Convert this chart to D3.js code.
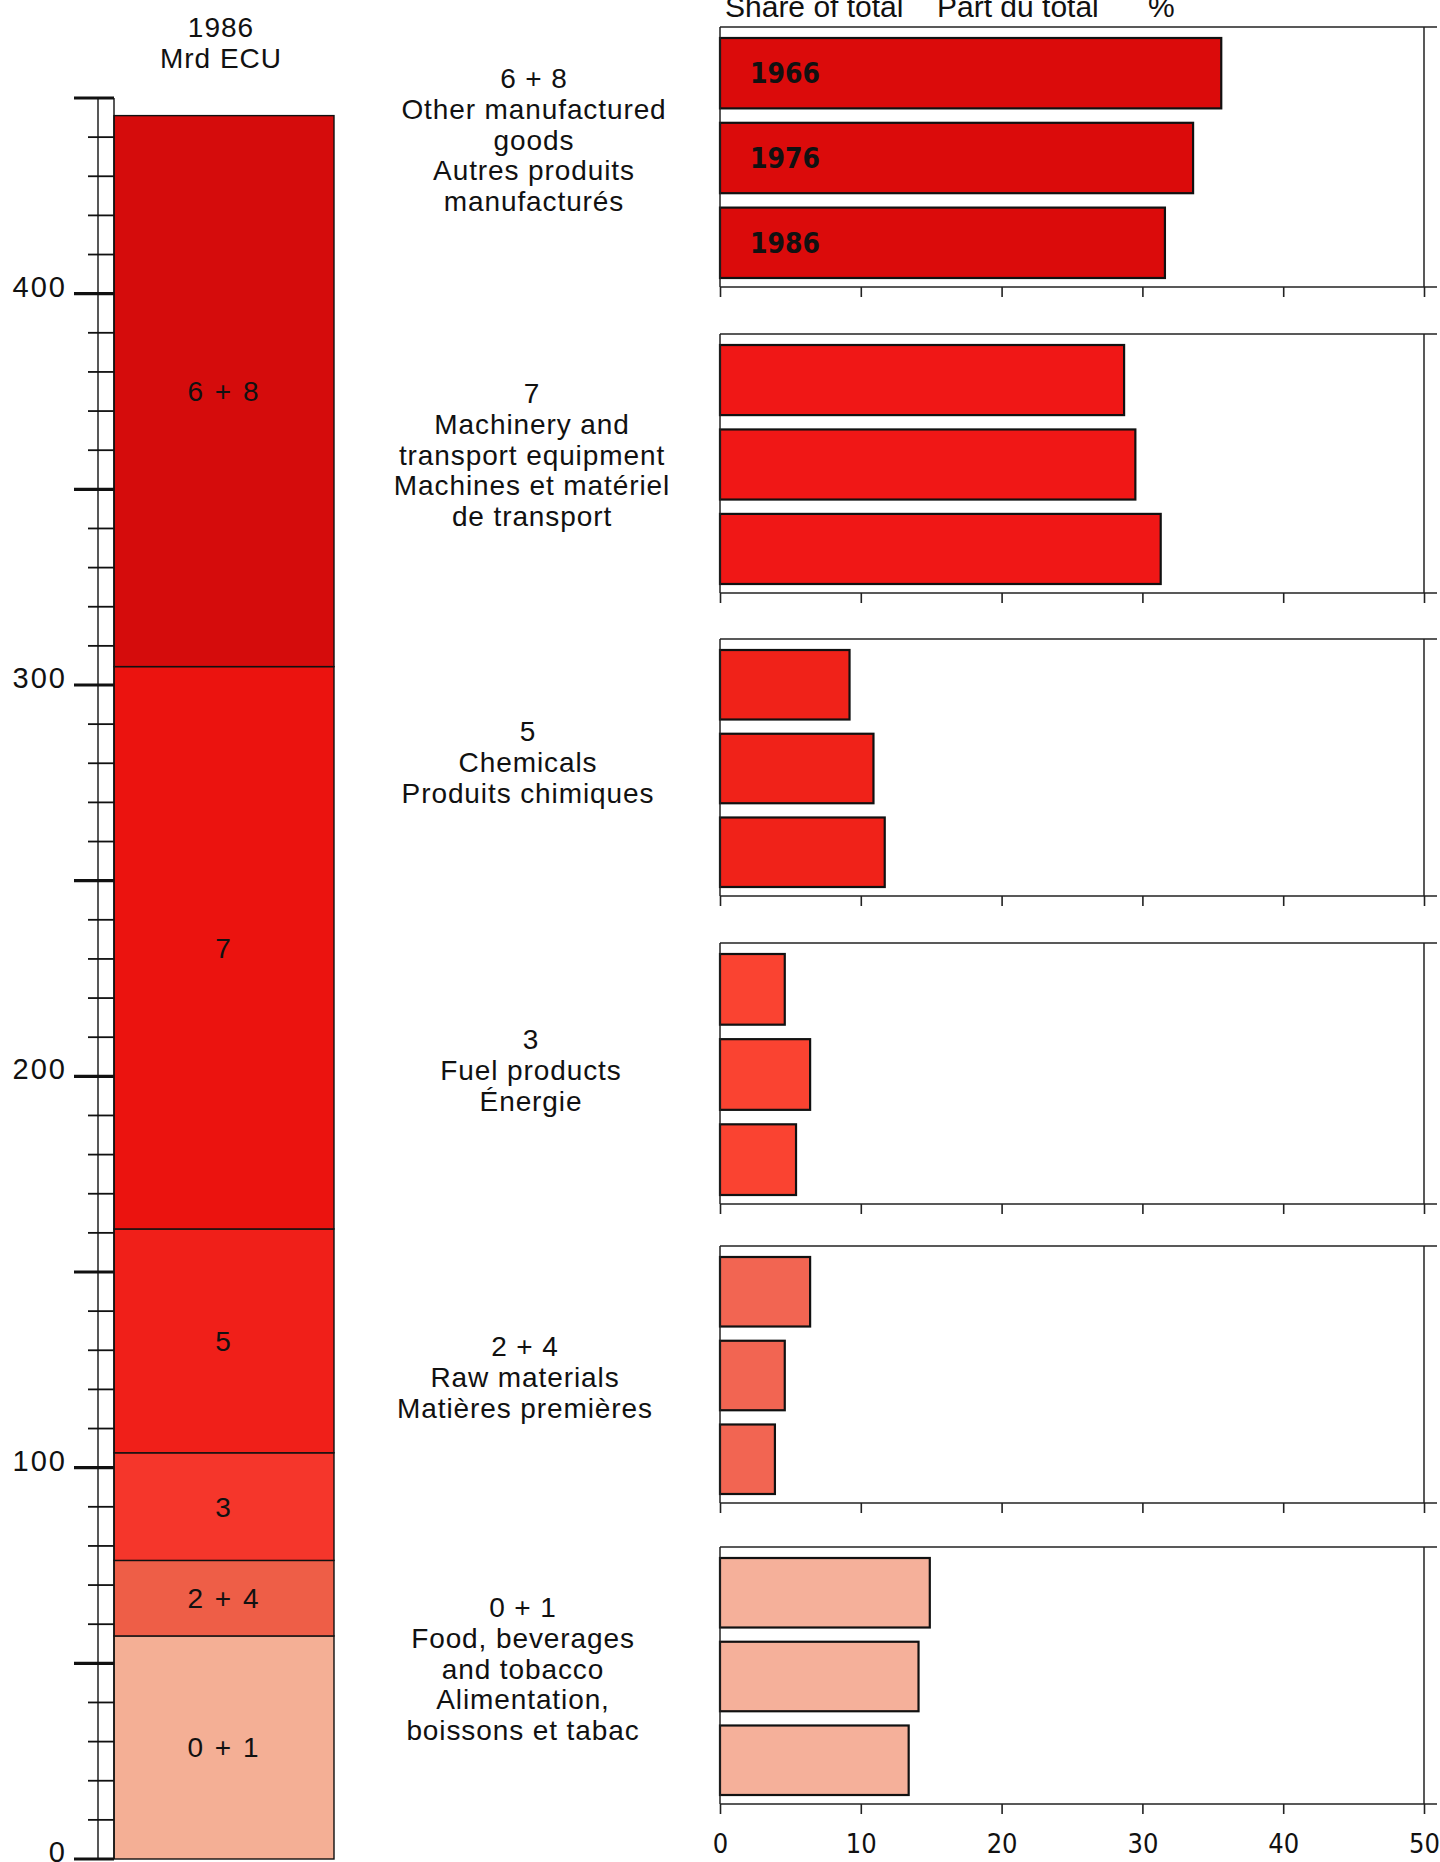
<!DOCTYPE html>
<html>
<head>
<meta charset="utf-8">
<script src="https://cdn.jsdelivr.net/npm/d3@7"></script>
<style>
  html, body { margin: 0; padding: 0; background: #ffffff; }
  svg { display: block; }
  .reg { font-family: "Liberation Sans", Arial, sans-serif; fill: #111; }
  .nar { font-family: "Liberation Sans Narrow", "Arial Narrow", "DejaVu Sans Condensed", sans-serif; fill: #111; }
</style>
</head>
<body>
<script>
// ---------------- DATA ----------------
const categories = ["6 + 8", "7", "5", "3", "2 + 4", "0 + 1"];
const categoryText = [
  ["6 + 8", "Other manufactured", "goods", "Autres produits", "manufacturés"],
  ["7", "Machinery and", "transport equipment", "Machines et matériel", "de transport"],
  ["5", "Chemicals", "Produits chimiques"],
  ["3", "Fuel products", "Énergie"],
  ["2 + 4", "Raw materials", "Matières premières"],
  ["0 + 1", "Food, beverages", "and tobacco", "Alimentation,", "boissons et tabac"]
];
// 1986 exports, Mrd ECU (stacked column)
const value1986 = [140.8, 143.7, 57.2, 27.5, 19.3, 57.0];
// Share of total, %
const years = ["1966", "1976", "1986"];
const share1966 = [35.6, 28.7, 9.2, 4.6, 6.4, 14.9];
const share1976 = [33.6, 29.5, 10.9, 6.4, 4.6, 14.1];
const share1986 = [31.6, 31.3, 11.7, 5.4, 3.9, 13.4];
const leftTickLabels = [0, 100, 200, 300, 400];
const shareTicks = [0, 10, 20, 30, 40, 50];
const leftTitle = ["1986", "Mrd ECU"];
const shareTitle = ["Share of total", "Part du total", "%"];

// ---------------- STYLE / LAYOUT ----------------
const W = 1440, H = 1862;
const segColors = ["#d50c0c", "#eb130f", "#f01f19", "#f5362b", "#ee5e47", "#f4af95"];
const barColors = ["#db0b0b", "#f01716", "#f02219", "#fa4331", "#f26552", "#f5b09a"];
const textPos = [[534, 78], [532, 393], [528, 731], [531, 1039], [525, 1346], [523, 1607]];
const panelTops = [27, 334, 639, 943, 1246, 1547];
const panelBottoms = [287, 593, 896, 1204, 1503, 1804];

const svg = d3.select("body").append("svg").attr("width", W).attr("height", H);

// ---------------- LEFT STACKED COLUMN ----------------
const yL = d3.scaleLinear().domain([0, 450]).range([1859, 98]);
const colX0 = 114, colX1 = 334;

const stackOrder = d3.range(categories.length).reverse();
let cum = 0;
const segs = stackOrder.map(i => { const s = { i, y0: cum, y1: cum + value1986[i] }; cum += value1986[i]; return s; });

const gL = svg.append("g");
gL.selectAll("rect.seg").data(segs).join("rect")
  .attr("class", "seg")
  .attr("x", colX0).attr("width", colX1 - colX0)
  .attr("y", d => yL(d.y1)).attr("height", d => yL(d.y0) - yL(d.y1))
  .attr("fill", d => segColors[d.i])
  .attr("stroke", "#111").attr("stroke-width", 1.4);

gL.selectAll("text.seglab").data(segs).join("text")
  .attr("class", "reg seglab")
  .attr("x", (colX0 + colX1) / 2)
  .attr("y", d => (yL(d.y0) + yL(d.y1)) / 2 + 10)
  .attr("text-anchor", "middle")
  .attr("font-size", 28).attr("letter-spacing", 2)
  .text(d => categories[d.i]);

// ruler
const ruler = svg.append("g");
ruler.append("line").attr("x1", 98).attr("x2", 98).attr("y1", yL(450)).attr("y2", yL(0))
  .attr("stroke", "#111").attr("stroke-width", 1.4);
ruler.append("line").attr("x1", colX0).attr("x2", colX0).attr("y1", yL(450)).attr("y2", yL(0))
  .attr("stroke", "#111").attr("stroke-width", 1.4);
const tickVals = d3.range(0, 451, 10);
ruler.selectAll("line.tk").data(tickVals).join("line")
  .attr("class", "tk")
  .attr("x1", d => d % 50 === 0 ? 74 : 88).attr("x2", colX0)
  .attr("y1", d => yL(d)).attr("y2", d => yL(d))
  .attr("stroke", "#111")
  .attr("stroke-width", d => d % 50 === 0 ? 3.2 : 1.8);
ruler.selectAll("text.tl").data(leftTickLabels).join("text")
  .attr("class", "reg tl")
  .attr("x", 67).attr("y", d => yL(d) + 3)
  .attr("text-anchor", "end")
  .attr("font-size", 29).attr("letter-spacing", 2)
  .text(d => d);

svg.selectAll("text.lt").data(leftTitle).join("text")
  .attr("class", "reg lt")
  .attr("x", 221).attr("y", (d, i) => 37 + i * 31)
  .attr("text-anchor", "middle").attr("font-size", 28).attr("letter-spacing", 1)
  .text(d => d);

// ---------------- SHARE PANELS ----------------
const x = d3.scaleLinear().domain([0, 50]).range([720, 1424]);
const shares = [share1966, share1976, share1986];

categories.forEach((cat, ci) => {
  const top = panelTops[ci];
  const bottom = panelBottoms[ci];
  const g = svg.append("g");
  const yB = d3.scaleBand().domain(years).range([top + 11, bottom - 9]).paddingInner(0.17).paddingOuter(0);

  const rows = years.map((yr, k) => ({ yr, v: shares[k][ci] }));
  g.selectAll("rect").data(rows).join("rect")
    .attr("x", x(0)).attr("y", d => yB(d.yr))
    .attr("width", d => x(d.v) - x(0)).attr("height", yB.bandwidth())
    .attr("fill", barColors[ci])
    .attr("stroke", "#111").attr("stroke-width", 2.2);

  if (ci === 0) {
    g.selectAll("text.yr").data(rows).join("text")
      .attr("class", "nar yr")
      .attr("x", 750).attr("y", d => yB(d.yr) + yB.bandwidth() / 2 + 10)
      .attr("font-size", 28).attr("font-weight", "bold")
      .text(d => d.yr);
  }

  // frame
  g.append("line").attr("x1", x(0)).attr("x2", 1437).attr("y1", top).attr("y2", top)
    .attr("stroke", "#222").attr("stroke-width", 1.5);
  g.append("line").attr("x1", x(0)).attr("x2", x(0)).attr("y1", top).attr("y2", bottom)
    .attr("stroke", "#222").attr("stroke-width", 1.5);
  g.append("line").attr("x1", x(50)).attr("x2", x(50)).attr("y1", top).attr("y2", bottom)
    .attr("stroke", "#222").attr("stroke-width", 1.5);

  // axis
  const ax = g.append("g").attr("transform", `translate(0,${bottom})`)
    .call(d3.axisBottom(x).tickValues(shareTicks).tickSize(10).tickSizeOuter(0)
      .tickFormat(ci === categories.length - 1 ? d3.format("d") : () => ""));
  ax.select(".domain").attr("d", `M${x(0)},0H1437`).attr("stroke", "#222").attr("stroke-width", 1.5);
  ax.selectAll(".tick line").attr("stroke", "#222").attr("stroke-width", 1.6);
  ax.selectAll(".tick text").attr("class", "nar").attr("font-size", 27)
    .attr("fill", "#111").attr("dy", 0).attr("y", 49);

  // category label
  const [tx, ty] = textPos[ci];
  svg.append("g").selectAll("text").data(categoryText[ci]).join("text")
    .attr("class", "reg")
    .attr("x", tx).attr("y", (d, i) => ty + 10 + i * 30.8)
    .attr("text-anchor", "middle").attr("font-size", 28).attr("letter-spacing", 0.9)
    .text(d => d);
});

// header
const hx = [725, 937, 1148];
svg.selectAll("text.hd").data(shareTitle).join("text")
  .attr("class", "reg hd")
  .attr("x", (d, i) => hx[i]).attr("y", 17)
  .attr("font-size", 30)
  .text(d => d);
</script>
</body>
</html>
